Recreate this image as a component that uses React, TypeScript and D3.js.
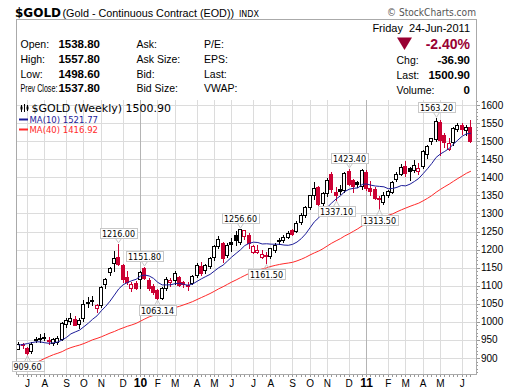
import { useEffect, useRef } from 'react';
import * as d3 from 'd3';

// weekly bars, first bar = week ending 26-Jun-2009
const firstWeek = '2009-06-26';

const opens = [
  927, 938, 928, 920, 950, 954, 957, 950, 941, 945,
  953, 994, 1003, 1008, 994, 1012, 1055, 1060, 1038, 1047,
  1104, 1139, 1165, 1180, 1157, 1125, 1093, 1107, 1119, 1150,
  1116, 1100, 1088, 1064, 1094, 1111, 1118, 1125, 1109, 1098,
  1108, 1128, 1155, 1143, 1156, 1179, 1208, 1217, 1186, 1222,
  1240, 1220, 1236, 1240, 1194, 1194, 1180, 1185, 1181, 1200,
  1226, 1227, 1236, 1254, 1252, 1276, 1297, 1318, 1351, 1372,
  1328, 1356, 1408, 1360, 1367, 1365, 1418, 1392, 1386, 1378,
  1415, 1369, 1368, 1344, 1332, 1350, 1360, 1396, 1410, 1430,
  1426, 1420, 1418, 1430, 1465, 1499, 1506, 1554, 1518, 1478,
  1496, 1535, 1546, 1530, 1538.8,
];
const highs = [
  945, 941, 931, 943, 959, 966, 969, 958, 956, 960,
  1000, 1011, 1025, 1016, 1010, 1061, 1070, 1071, 1050, 1100,
  1120, 1152, 1196, 1216, 1160, 1140, 1110, 1112, 1140, 1151.8,
  1122, 1106, 1090, 1096, 1123, 1122, 1141, 1128, 1114, 1110,
  1130, 1163, 1165, 1160, 1180, 1212, 1237, 1222, 1218, 1232,
  1251, 1256.6, 1254, 1245, 1214, 1212, 1200, 1192, 1205, 1218,
  1232, 1240, 1252, 1257, 1278, 1300, 1321, 1352, 1386, 1375,
  1360, 1398, 1414, 1372, 1380, 1416, 1423.4, 1395, 1390, 1422,
  1420, 1390, 1372, 1348, 1359, 1366, 1390, 1415, 1437, 1444,
  1428, 1447, 1440, 1476, 1490, 1510, 1563.2, 1558, 1522, 1508,
  1538, 1550, 1550, 1545, 1557.8,
];
const lows = [
  925, 929, 909.6, 915, 943, 945, 949, 938, 935, 940,
  950, 985, 995, 990, 984, 1002, 1040, 1046, 1026, 1042,
  1095, 1130, 1140, 1158, 1110, 1105, 1084, 1090, 1095, 1118,
  1088, 1078, 1063.14, 1064, 1088, 1100, 1105, 1100, 1097, 1088,
  1105, 1125, 1130, 1135, 1150, 1172, 1205, 1166, 1180, 1196,
  1212, 1215, 1230, 1205, 1190, 1190, 1176, 1161.5, 1178, 1192,
  1215, 1222, 1232, 1240, 1248, 1270, 1290, 1312, 1340, 1316,
  1318, 1349, 1360, 1337.1, 1355, 1358, 1378, 1360, 1372, 1368,
  1365, 1352, 1340, 1313.5, 1325, 1345, 1356, 1390, 1405, 1403,
  1392, 1415, 1410, 1426, 1452, 1492, 1500, 1462, 1485, 1475,
  1490, 1528, 1520, 1517, 1498.6,
];
const closes = [
  940, 934, 913, 938, 953, 955, 956, 946, 953, 955,
  996, 1006, 1010, 991, 1004, 1050, 1052, 1056, 1046, 1096,
  1118, 1150, 1178, 1162, 1118, 1111, 1104, 1094, 1138, 1122,
  1093, 1083, 1066, 1093, 1118, 1116, 1136, 1104, 1103, 1101,
  1126, 1157, 1136, 1156, 1178, 1209, 1228, 1176, 1214, 1216,
  1225, 1256, 1253, 1217, 1211, 1199, 1188, 1182, 1203, 1214,
  1222, 1236, 1246, 1244, 1274, 1296, 1318, 1350, 1369, 1325,
  1357, 1393, 1366, 1352, 1362, 1413, 1382, 1376, 1380, 1421,
  1370, 1360, 1343, 1341, 1350, 1361, 1388, 1409, 1429, 1412,
  1417, 1434, 1427, 1472, 1486, 1508, 1556, 1505, 1500, 1494,
  1536, 1545, 1535, 1537.8, 1500.9,
];
// closes of the 39 weeks before the first bar (feed the moving averages)
const priorCloses = [
  884, 834, 860, 787, 736, 718, 737, 749, 797, 816,
  752, 823, 842, 873, 878, 852, 840, 897, 918, 914,
  942, 1002, 942, 940, 930, 955, 923, 898, 870, 866,
  914, 887, 915, 928, 958, 979, 962, 938, 933,
];

const monthDates = [
  '2009-07-10', '2009-08-07', '2009-09-11', '2009-10-09', '2009-11-06', '2009-12-11',
  '2010-01-08', '2010-02-05', '2010-03-05', '2010-04-09', '2010-05-07', '2010-06-04',
  '2010-07-09', '2010-08-06', '2010-09-10', '2010-10-08', '2010-11-05', '2010-12-10',
  '2011-01-07', '2011-02-11', '2011-03-11', '2011-04-08', '2011-05-06', '2011-06-10',
];
const monthLabels = [
  'J', 'A', 'S', 'O', 'N', 'D', '10', 'F', 'M', 'A', 'M', 'J',
  'J', 'A', 'S', 'O', 'N', 'D', '11', 'F', 'M', 'A', 'M', 'J',
];
const priceTicks = [900, 950, 1000, 1050, 1100, 1150, 1200, 1250, 1300, 1350, 1400, 1450, 1500, 1550, 1600];

const peakDates = ['2009-12-04', '2010-01-15', '2010-06-18', '2010-12-10', '2011-04-29'];
const troughDates = ['2009-07-10', '2010-02-05', '2010-07-30', '2010-11-19', '2011-01-28'];

const quoteLeft = [
  ['Open:', '1538.80', 'Ask:', 'P/E:'],
  ['High:', '1557.80', 'Ask Size:', 'EPS:'],
  ['Low:', '1498.60', 'Bid:', 'Last:'],
  ['Prev Close:', '1537.80', 'Bid Size:', 'VWAP:'],
];
const quoteRight = [
  ['Chg:', '-36.90'],
  ['Last:', '1500.90'],
  ['Volume:', '0'],
];

const RED = '#cc0033';
const DARKRED = '#990033';
const NAVY = '#1c1c99';
const MARED = '#ff2a2a';
const SANS = '"Liberation Sans", Arial, sans-serif';
const VERD = '"DejaVu Sans", Verdana, sans-serif';

export default function App() {
  const ref = useRef<SVGSVGElement | null>(null);

  useEffect(() => {
    const svg = d3.select(ref.current);
    svg.selectAll('*').remove();

    const parse = d3.timeParse('%Y-%m-%d');
    const start = parse(firstWeek)!;
    const weeks = closes.map((_, i) => d3.timeDay.offset(start, 7 * i));
    const all = priorCloses.concat(closes);
    const ma = (n: number) =>
      closes.map((_, i) => d3.mean(all.slice(i + priorCloses.length - n + 1, i + priorCloses.length + 1))!);
    const ma10 = ma(10);
    const ma40 = ma(40);

    const left = 17, right = 476, top = 100, bottom = 374;
    const x = d3.scaleTime()
      .domain([new Date(2009, 5, 24), new Date(2011, 6, 3)])
      .range([left, right]);
    const y = d3.scaleLinear().domain([900, 1600]).range([358, 105]);
    const px = (d: Date) => Math.round(x(d));

    svg.append('rect').attr('width', 520).attr('height', 391).attr('fill', '#fff');

    // ---- title line
    svg.append('text').attr('x', 15).attr('y', 16.5)
      .style('font', `bold 12px ${VERD}`).text('$GOLD');
    svg.append('text').attr('x', 62.5).attr('y', 16.5)
      .style('font', `10.8px ${SANS}`).text('(Gold - Continuous Contract (EOD))');
    svg.append('text').attr('x', 239).attr('y', 16.5)
      .style('font', `8px ${VERD}`).text('INDX');
    svg.append('text').attr('x', 476).attr('y', 16).attr('text-anchor', 'end')
      .attr('fill', '#555').attr('textLength', 89).attr('lengthAdjust', 'spacingAndGlyphs')
      .style('font', `10px ${VERD}`).text('\u00a9 StockCharts.com');

    // ---- frame
    svg.append('rect').attr('x', 16.5).attr('y', 19.5).attr('width', 460).attr('height', bottom - 19)
      .attr('fill', 'none').attr('stroke', '#aaa');

    // ---- quote box
    const rowY = [47.5, 62.5, 77.5, 92];
    quoteLeft.forEach((r, i) => {
      if (r[0] === 'Prev Close:') {
        // narrow label: squeeze horizontally so it fits before the value
        svg.append('text').attr('transform', `translate(20.5,${rowY[i]}) scale(0.68,1)`)
          .style('font', `10.5px ${SANS}`).text(r[0]);
      } else {
        svg.append('text').attr('x', 20.5).attr('y', rowY[i]).style('font', `10.5px ${SANS}`).text(r[0]);
      }
      svg.append('text').attr('x', 100).attr('y', rowY[i]).attr('text-anchor', 'end')
        .style('font', `bold 11.5px ${SANS}`).text(r[1]);
      svg.append('text').attr('x', 136.5).attr('y', rowY[i]).style('font', `10.5px ${SANS}`).text(r[2]);
      svg.append('text').attr('x', 204).attr('y', rowY[i]).style('font', `10.5px ${SANS}`).text(r[3]);
    });
    svg.append('text').attr('x', 470).attr('y', 32).attr('text-anchor', 'end')
      .style('font', `11px ${SANS}`).style('white-space', 'pre').text('Friday  24-Jun-2011');
    svg.append('path').attr('d', 'M397,37.5L412,37.5L404.5,50Z').attr('fill', DARKRED);
    svg.append('text').attr('x', 470).attr('y', 49.3).attr('text-anchor', 'end')
      .attr('fill', DARKRED).style('font', `bold 14px ${SANS}`).text('-2.40%');
    quoteRight.forEach((r, i) => {
      svg.append('text').attr('x', 396.5).attr('y', rowY[i + 1] + 1.5).style('font', `10.5px ${SANS}`).text(r[0]);
      svg.append('text').attr('x', 470).attr('y', rowY[i + 1] + 1.5).attr('text-anchor', 'end')
        .style('font', `bold 11.5px ${SANS}`).text(r[1]);
    });

    // ---- grid
    const g = svg.append('g');
    g.selectAll('line.h').data(priceTicks).join('line')
      .attr('x1', left).attr('x2', right)
      .attr('y1', d => Math.round(y(d)) + 0.5).attr('y2', d => Math.round(y(d)) + 0.5)
      .attr('stroke', '#dcdcdc');
    g.selectAll('line.v').data(monthDates).join('line')
      .attr('x1', d => px(parse(d)!) + 0.5).attr('x2', d => px(parse(d)!) + 0.5)
      .attr('y1', top).attr('y2', bottom)
      .attr('stroke', (_, i) => (/^\d/.test(monthLabels[i]) ? '#b4b4b4' : '#dcdcdc'));

    // ---- axes
    svg.append('line').attr('x1', right + 0.5).attr('x2', right + 0.5).attr('y1', top).attr('y2', bottom + 1)
      .attr('stroke', '#aaa');
    svg.append('line').attr('x1', left).attr('x2', right + 1).attr('y1', bottom + 0.5).attr('y2', bottom + 0.5)
      .attr('stroke', '#aaa');
    const minor = d3.range(860, 1611, 10);
    svg.selectAll('line.ry').data(minor).join('line')
      .attr('x1', right + 1).attr('x2', d => right + (d % 50 === 0 ? 4 : 2))
      .attr('y1', d => Math.round(y(d)) + 0.5).attr('y2', d => Math.round(y(d)) + 0.5)
      .attr('stroke', '#999');
    svg.selectAll('text.ry').data(priceTicks).join('text')
      .attr('x', 481).attr('y', d => y(d) + 3.5)
      .style('font', `10px ${SANS}`).text(d => d);
    svg.selectAll('line.wk').data(weeks).join('line')
      .attr('x1', d => px(d) + 0.5).attr('x2', d => px(d) + 0.5)
      .attr('y1', bottom + 1).attr('y2', bottom + 3)
      .attr('stroke', '#999');
    svg.selectAll('text.mo').data(monthDates).join('text')
      .attr('x', d => x(parse(d)!) + 0.5).attr('y', 387)
      .attr('text-anchor', 'middle')
      .style('font', (_, i) => (/^\d/.test(monthLabels[i]) ? `bold 12px ${SANS}` : `10px ${SANS}`))
      .text((_, i) => monthLabels[i]);

    // ---- plot contents
    svg.append('clipPath').attr('id', 'plotclip').append('rect')
      .attr('x', left).attr('y', top).attr('width', right - left).attr('height', bottom - top);
    const plot = svg.append('g').attr('clip-path', 'url(#plotclip)');

    const idx = d3.range(closes.length);
    const candle = plot.selectAll('g.c').data(idx).join('g');
    const colorOf = (i: number) => {
      const prev = i === 0 ? priorCloses[priorCloses.length - 1] : closes[i - 1];
      return closes[i] < prev ? RED : '#000';
    };
    candle.append('line')
      .attr('x1', i => px(weeks[i]) + 0.5).attr('x2', i => px(weeks[i]) + 0.5)
      .attr('y1', i => Math.round(y(highs[i]))).attr('y2', i => Math.round(y(lows[i])) + 1)
      .attr('stroke', colorOf);
    candle.append('rect')
      .attr('x', i => px(weeks[i]) - 1.5).attr('width', 3)
      .attr('y', i => Math.round(y(Math.max(opens[i], closes[i]))) + 0.5)
      .attr('height', i => Math.max(1, Math.round(Math.abs(y(opens[i]) - y(closes[i])))))
      .attr('fill', i => (closes[i] > opens[i] ? '#fff' : colorOf(i)))
      .attr('stroke', colorOf);

    const line = (vals: number[]) => d3.line<number>()
      .x((_, i) => x(weeks[i]) + 0.5).y(d => y(d))(vals);
    plot.append('path').attr('d', line(ma40)).attr('fill', 'none').attr('stroke', MARED).attr('stroke-width', 1);
    plot.append('path').attr('d', line(ma10)).attr('fill', 'none').attr('stroke', NAVY).attr('stroke-width', 1);

    // ---- peak / trough labels
    const note = (dateStr: string, isPeak: boolean) => {
      const i = weeks.findIndex(w => d3.timeFormat('%Y-%m-%d')(w) === dateStr);
      const v = isPeak ? highs[i] : lows[i];
      const cx = px(weeks[i]) + 0.5;
      const py = y(v);
      const grp = svg.append('g');
      const t = grp.append('text').attr('text-anchor', 'middle').attr('x', cx)
        .style('font', `8px ${VERD}`).text(v.toFixed(2));
      const w = (t.node() as SVGTextElement).getComputedTextLength() + 4;
      const h = 10;
      const by = isPeak ? Math.round(py) - 6 - h : Math.round(py) + 6;
      const bx = Math.round(cx - w / 2) + 0.5;
      grp.insert('rect', 'text').attr('x', bx).attr('y', by + 0.5).attr('width', Math.round(w)).attr('height', h)
        .attr('fill', '#fff').attr('stroke', '#c8c8c8');
      const edge = isPeak ? by + h + 0.5 : by + 0.5;
      const tip = isPeak ? py - 1 : py + 1;
      grp.append('path').attr('d', `M${cx - 3},${edge}L${cx},${tip}L${cx + 3},${edge}`)
        .attr('fill', 'none').attr('stroke', '#c8c8c8');
      t.attr('y', by + 8.5);
    };
    peakDates.forEach(d => note(d, true));
    troughDates.forEach(d => note(d, false));

    // ---- legend
    const lg = svg.append('g');
    lg.append('path').attr('d', 'M21.5,105v7M24.5,104v8M27.5,105v6').attr('stroke', '#000');
    lg.append('rect').attr('x', 20.5).attr('y', 106.5).attr('width', 2).attr('height', 3).attr('fill', '#000');
    lg.append('rect').attr('x', 26.5).attr('y', 106.5).attr('width', 2).attr('height', 3).attr('fill', '#000');
    lg.append('text').attr('x', 31.5).attr('y', 111.5).style('font', `11px ${VERD}`)
      .text(`$GOLD (Weekly) ${closes[closes.length - 1].toFixed(2)}`);
    lg.append('line').attr('x1', 19).attr('x2', 28).attr('y1', 119.5).attr('y2', 119.5).attr('stroke', NAVY).attr('stroke-width', 2);
    lg.append('text').attr('x', 29.5).attr('y', 122.5).attr('fill', NAVY).style('font', `8.5px ${VERD}`)
      .text(`MA(10) ${ma10[ma10.length - 1].toFixed(2)}`);
    lg.append('line').attr('x1', 19).attr('x2', 28).attr('y1', 129.5).attr('y2', 129.5).attr('stroke', MARED).attr('stroke-width', 2);
    lg.append('text').attr('x', 29.5).attr('y', 132.5).attr('fill', MARED).style('font', `8.5px ${VERD}`)
      .text(`MA(40) ${ma40[ma40.length - 1].toFixed(2)}`);
  }, []);

  return (
    <svg ref={ref} width={520} height={391}
      style={{ position: 'absolute', left: 0, top: 0, display: 'block' }} />
  );
}
